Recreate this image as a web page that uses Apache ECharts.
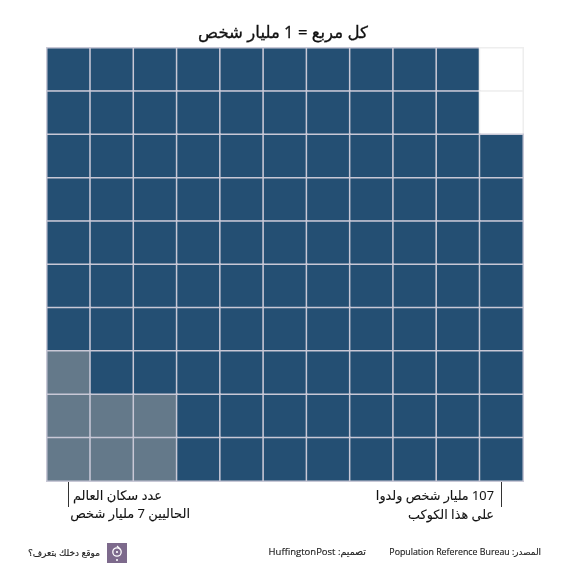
<!DOCTYPE html>
<html>
<head>
<meta charset="utf-8">
<style>html,body{margin:0;padding:0;background:#fff}#c{width:570px;height:572px}</style>
<script src="https://cdn.jsdelivr.net/npm/echarts@6/dist/echarts.min.js"></script>
</head>
<body>
<div id="c" dir="rtl"></div>
<script>
const columns = ['1','2','3','4','5','6','7','8','9','10','11'];
const rows = ['1','2','3','4','5','6','7','8','9','10'];
// 0 = empty square, 1 = people ever born, 2 = people alive today
const row1  = [1,1,1,1,1,1,1,1,1,1,0];
const row2  = [1,1,1,1,1,1,1,1,1,1,0];
const row3  = [1,1,1,1,1,1,1,1,1,1,1];
const row4  = [1,1,1,1,1,1,1,1,1,1,1];
const row5  = [1,1,1,1,1,1,1,1,1,1,1];
const row6  = [1,1,1,1,1,1,1,1,1,1,1];
const row7  = [1,1,1,1,1,1,1,1,1,1,1];
const row8  = [2,1,1,1,1,1,1,1,1,1,1];
const row9  = [2,2,2,1,1,1,1,1,1,1,1];
const row10 = [2,2,2,1,1,1,1,1,1,1,1];
const matrix = [row1,row2,row3,row4,row5,row6,row7,row8,row9,row10];

const titleText = 'كل مربع = 1 مليار شخص';
const leftNote = ['عدد سكان العالم','الحاليين 7 مليار شخص'];
const rightNote = ['107 مليار شخص ولدوا','على هذا الكوكب'];
const footSource = 'المصدر: Population Reference Bureau';
const footDesign = 'تصميم: HuffingtonPost';
const footSite = 'موقع دخلك بتعرف؟';

const FONT = '"Open Sans","DejaVu Sans",sans-serif';
const fills = ['#ffffff','#244f73','#64798a'];
const edges = ['#eeeeee','#c8c8d6','#c8c8d6'];

const cells = [];
matrix.forEach((r, y) => r.forEach((k, x) => cells.push({
  value: [x, y, k],
  itemStyle: { color: fills[k], borderColor: edges[k], borderWidth: 1.5 }
})));

function txt(x, y, s, size, align, color, heavy) {
  const c = color || '#111';
  return { type: 'text', x: x, y: y, silent: true,
    style: { text: s, fontSize: size, fontFamily: FONT, fill: c, align: align, verticalAlign: 'middle',
      stroke: heavy ? c : null, lineWidth: heavy || 0 } };
}
function vline(x, y1, y2) {
  return { type: 'line', silent: true, shape: { x1: x, y1: y1, x2: x, y2: y2 }, style: { stroke: '#333', lineWidth: 1 } };
}

const chart = echarts.init(document.getElementById('c'), null, { renderer: 'canvas' });
chart.setOption({
  animation: false,
  backgroundColor: '#fff',
  grid: { left: 47, top: 48, width: 476, height: 433 },
  xAxis: { type: 'category', data: columns, show: false },
  yAxis: { type: 'category', data: rows, inverse: true, show: false },
  series: [{ type: 'heatmap', data: cells, silent: true, progressive: 0 }],
  graphic: [
    txt(283, 33, titleText, 16.6, 'center', '#111', 0.3),
    vline(68.5, 482, 507),
    txt(162, 496, leftNote[0], 13, 'right', '#111', 0.1),
    txt(190, 514, leftNote[1], 13, 'right', '#111', 0.1),
    vline(501.5, 482, 507),
    txt(494, 496, rightNote[0], 12.8, 'right', '#111', 0.1),
    txt(494, 515, rightNote[1], 12.8, 'right', '#111', 0.1),
    txt(541, 552, footSource, 8.8, 'right', '#222', 0.15),
    txt(366, 552, footDesign, 9.5, 'right', '#222', 0.15),
    txt(100, 553, footSite, 9, 'right', '#222', 0.15),
    { type: 'rect', silent: true, shape: { x: 107, y: 543, width: 20, height: 20 }, style: { fill: '#7d6a8c' } },
    { type: 'circle', silent: true, shape: { cx: 117, cy: 552, r: 4.2 }, style: { fill: 'none', stroke: '#fff', lineWidth: 1.3 } },
    { type: 'line', silent: true, shape: { x1: 117, y1: 546, x2: 120, y2: 549 }, style: { stroke: '#fff', lineWidth: 1.3 } },
    { type: 'circle', silent: true, shape: { cx: 117, cy: 552, r: 1.1 }, style: { fill: '#fff' } },
    { type: 'circle', silent: true, shape: { cx: 117, cy: 560, r: 1 }, style: { fill: '#fff' } }
  ]
});
</script>
</body>
</html>
